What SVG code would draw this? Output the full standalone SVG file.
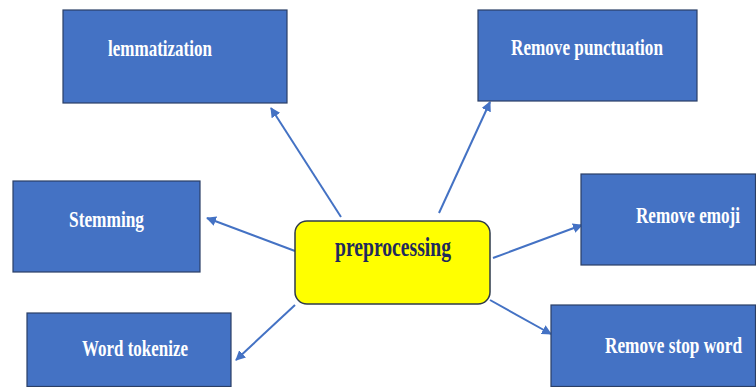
<svg xmlns="http://www.w3.org/2000/svg" width="756" height="387" viewBox="0 0 756 387">
<style>
.box{fill:#4472C4;stroke:#2A3F66;stroke-width:1.2}
.lbl{font-family:"Liberation Serif","Times New Roman",serif;font-weight:bold;font-size:17px;fill:#FFFFFF}
.ctr{fill:#FFFF00;stroke:#2E3A4A;stroke-width:1.5}
.ctrl{font-family:"Liberation Serif","Times New Roman",serif;font-weight:bold;font-size:19.5px;fill:#1F2A5C}
.conn{stroke:#4472C4;stroke-width:2;fill:none;marker-end:url(#ah)}
</style>
<defs>
<marker id="ah" viewBox="0 0 10 10" refX="9" refY="5" markerWidth="5" markerHeight="5" orient="auto" markerUnits="strokeWidth">
<path d="M0,0 L10,5 L0,10 z" fill="#4472C4"/>
</marker>
</defs>
<rect width="756" height="387" fill="#FFFFFF"/>
<g id="connectors">
<line class="conn" x1="341" y1="217" x2="271" y2="108"/>
<line class="conn" x1="439" y1="213" x2="490" y2="102"/>
<line class="conn" x1="295" y1="251" x2="207" y2="218"/>
<line class="conn" x1="295" y1="305" x2="236" y2="360"/>
<line class="conn" x1="493" y1="258" x2="582" y2="225"/>
<line class="conn" x1="490" y1="300" x2="551" y2="334"/>
</g>
<g id="lemmatization">
<rect class="box" x="63" y="10" width="224" height="93"/>
<text class="lbl" transform="translate(108,56) scale(1,1.3)" textLength="104" lengthAdjust="spacingAndGlyphs">lemmatization</text>
</g>
<g id="remove-punctuation">
<rect class="box" x="478" y="10" width="219" height="91"/>
<text class="lbl" transform="translate(511,55) scale(1,1.3)" textLength="152" lengthAdjust="spacingAndGlyphs">Remove punctuation</text>
</g>
<g id="stemming">
<rect class="box" x="13" y="181" width="187" height="91"/>
<text class="lbl" transform="translate(69,227) scale(1,1.3)" textLength="75" lengthAdjust="spacingAndGlyphs">Stemming</text>
</g>
<g id="word-tokenize">
<rect class="box" x="27" y="313" width="204" height="73.5"/>
<text class="lbl" transform="translate(82,356) scale(1,1.3)" textLength="106" lengthAdjust="spacingAndGlyphs">Word tokenize</text>
</g>
<g id="preprocessing">
<rect class="ctr" x="295" y="221" width="195" height="83" rx="12" ry="12"/>
<text class="ctrl" transform="translate(335,256) scale(1,1.4)" textLength="116" lengthAdjust="spacingAndGlyphs">preprocessing</text>
</g>
<g id="remove-emoji">
<rect class="box" x="581" y="174" width="174.5" height="91"/>
<text class="lbl" transform="translate(636,223) scale(1,1.3)" textLength="104" lengthAdjust="spacingAndGlyphs">Remove emoji</text>
</g>
<g id="remove-stop-word">
<rect class="box" x="551" y="305" width="204.5" height="81.5"/>
<text class="lbl" transform="translate(605,353) scale(1,1.3)" textLength="137" lengthAdjust="spacingAndGlyphs">Remove stop word</text>
</g>
</svg>
